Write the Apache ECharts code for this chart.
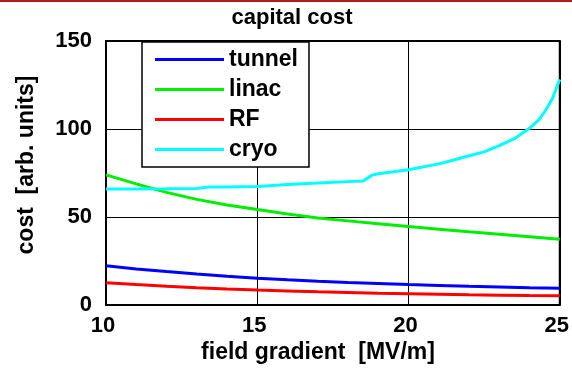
<!DOCTYPE html>
<html>
<head>
<meta charset="utf-8">
<script src="https://cdn.jsdelivr.net/npm/echarts@6/dist/echarts.min.js"></script>
<style>html,body{margin:0;padding:0;background:#fff;}#c{width:572px;height:369px;}</style>
</head>
<body>
<div id="c"></div>
<script>
var gradient = [10, 11, 12, 13, 14, 15, 16, 17, 18, 19, 20, 21, 22, 23, 24, 25];
var tunnel = [22.3, 20.5, 19.0, 17.6, 16.3, 15.2, 14.3, 13.5, 12.8, 12.2, 11.6, 11.1, 10.6, 10.2, 9.8, 9.5];
var linac = [73.9, 68.8, 64.0, 60.0, 56.8, 54.2, 51.7, 49.4, 47.8, 46.2, 44.6, 43.1, 41.6, 40.2, 38.8, 37.3];
var rf = [12.7, 11.6, 10.6, 9.8, 9.1, 8.5, 8.0, 7.5, 7.1, 6.7, 6.4, 6.1, 5.8, 5.6, 5.4, 5.3];
var cryoGradient = [10, 11, 12, 13, 13.4, 14, 15, 16, 17, 18, 18.5, 18.8, 19, 20, 21, 21.5, 22, 22.5, 23, 23.5, 24, 24.3, 24.5, 24.75, 25];
var cryo = [65.9, 65.9, 66.0, 66.2, 67.0, 67.1, 67.3, 68.4, 69.3, 70.1, 70.5, 73.8, 74.6, 76.8, 80.2, 82.4, 84.8, 87.0, 90.5, 94.5, 100.4, 105.0, 109.8, 117.0, 128.2];
var seriesNames = ['tunnel', 'linac', 'RF', 'cryo'];
var seriesColors = ['#0000ff', '#00ee00', '#ff0000', '#00ffff'];
var titleText = 'capital cost';
var xTitle = 'field gradient  [MV/m]';
var yTitle = 'cost  [arb. units]';

function pairs(xs, ys) { return xs.map(function (x, i) { return [x, ys[i]]; }); }
var seriesData = [pairs(gradient, tunnel), pairs(gradient, linac), pairs(gradient, rf), pairs(cryoGradient, cryo)];

var FONT = 'Liberation Sans, Arial, sans-serif';
var chart = echarts.init(document.getElementById('c'));
chart.setOption({
  animation: false,
  backgroundColor: '#fff',
  grid: { left: 106, top: 41, right: 12, bottom: 64, show: true, borderColor: '#000', borderWidth: 2, backgroundColor: 'transparent' },
  xAxis: {
    type: 'value', min: 10, max: 25, interval: 5,
    axisLine: { show: false }, axisTick: { show: false },
    splitLine: { show: true, lineStyle: { color: '#000', width: 1 } },
    axisLabel: { color: '#000', fontWeight: 'bold', fontSize: 22, fontFamily: FONT, margin: 10, padding: [0, 6, 0, 0] }
  },
  yAxis: {
    type: 'value', min: 0, max: 150, interval: 50,
    axisLine: { show: false }, axisTick: { show: false },
    splitLine: { show: true, lineStyle: { color: '#000', width: 1 } },
    axisLabel: { color: '#000', fontWeight: 'bold', fontSize: 22, fontFamily: FONT, margin: 14, padding: [6, 0, 0, 0] }
  },
  legend: {
    orient: 'vertical', left: 142, top: 42,
    backgroundColor: '#fff', borderColor: '#000', borderWidth: 1.5, borderRadius: 0,
    padding: [6, 11, 6, 13],
    itemWidth: 69, itemHeight: 3, itemGap: 7,
    icon: 'rect',
    textStyle: { color: '#000', fontWeight: 'bold', fontSize: 23, fontFamily: FONT, lineHeight: 22 },
    data: seriesNames
  },
  graphic: [
    { type: 'rect', left: 0, top: 0, shape: { width: 572, height: 2 }, style: { fill: '#b51c1c' } },
    { type: 'text', x: 292, y: 18, style: { text: titleText, fill: '#000', font: 'bold 22px ' + FONT, align: 'center', verticalAlign: 'middle' } },
    { type: 'text', x: 318, y: 353, style: { text: xTitle, fill: '#000', font: 'bold 23px ' + FONT, align: 'center', verticalAlign: 'middle' } },
    { type: 'text', x: 27, y: 165, rotation: Math.PI / 2, style: { text: yTitle, fill: '#000', font: 'bold 23px ' + FONT, align: 'center', verticalAlign: 'middle' } }
  ],
  series: seriesNames.map(function (n, i) {
    return {
      name: n, type: 'line', data: seriesData[i], showSymbol: false, symbol: 'none',
      lineStyle: { color: seriesColors[i], width: 3 }, itemStyle: { color: seriesColors[i] }, z: 3
    };
  })
});
</script>
</body>
</html>
